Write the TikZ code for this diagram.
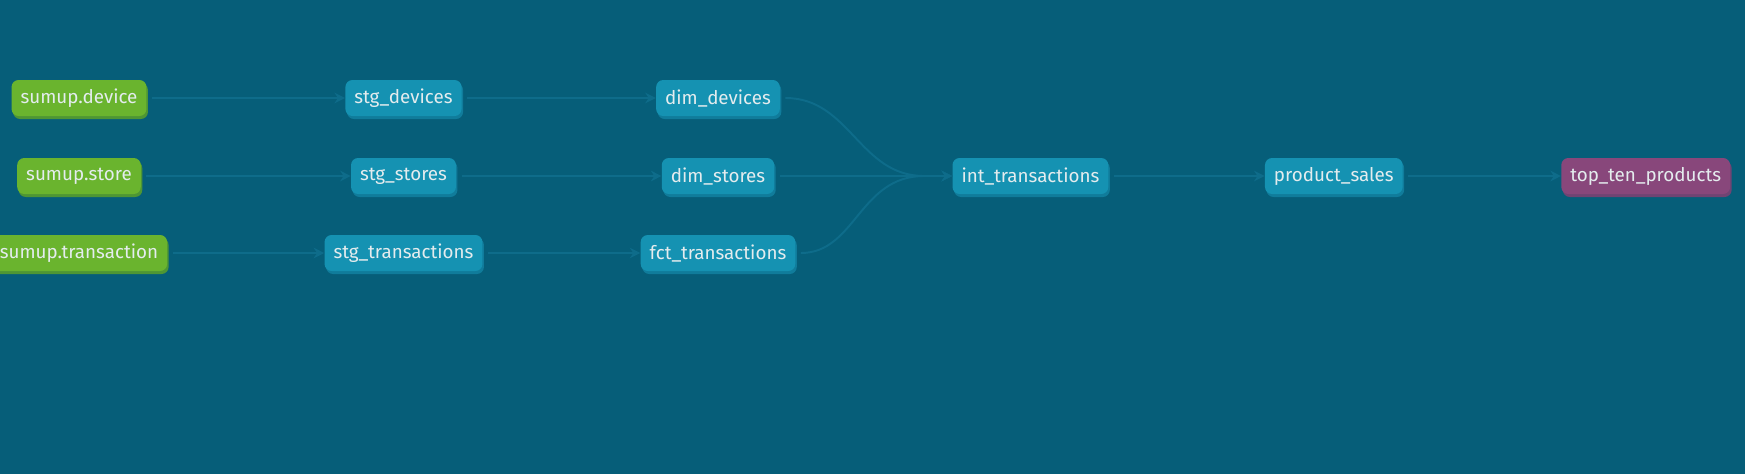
\documentclass[tikz,border=0pt]{standalone}
\usepackage{fontspec}
\setmainfont{Fira Sans}
\usetikzlibrary{shadows,arrows.meta}
\definecolor{bgblue}{RGB}{6,94,121}
\definecolor{edgeblue}{RGB}{14,108,138}
\definecolor{srcgreen}{RGB}{106,180,46}
\definecolor{srcshade}{RGB}{78,150,52}
\definecolor{mdlblue}{RGB}{21,146,178}
\definecolor{mdlshade}{RGB}{16,124,155}
\definecolor{expurple}{RGB}{136,71,123}
\definecolor{expshade}{RGB}{112,68,115}
\definecolor{lbltext}{RGB}{228,236,238}
\tikzset{
  dbt/.style={rounded corners=4pt,text=lbltext,minimum height=0.72cm,inner xsep=0.18cm,
    font=\fontsize{10.7}{13}\selectfont},
  source/.style={dbt,fill=srcgreen,general shadow={fill=srcshade,shadow yshift=-0.06cm,shadow xshift=0.03cm}},
  model/.style={dbt,fill=mdlblue,general shadow={fill=mdlshade,shadow yshift=-0.06cm,shadow xshift=0.03cm}},
  exposure/.style={dbt,fill=expurple,general shadow={fill=expshade,shadow yshift=-0.06cm,shadow xshift=0.03cm}},
  flow/.style={draw=edgeblue,line width=1.1pt,->,>={Stealth[length=6pt,width=6pt]},shorten <=3pt}
}
\begin{document}
\begin{tikzpicture}[x=0.02cm,y=-0.02cm]
\fill[bgblue] (0,0) rectangle (1745,474);
\useasboundingbox (0,0) rectangle (1745,474);
% sources
\node[source] (device) at (79,98) {sumup.device};
\node[source] (store) at (79,176) {sumup.store};
\node[source] (trans) at (79,253) {sumup.transaction};
% staging
\node[model] (stgdev) at (403.5,98) {stg\_devices};
\node[model] (stgsto) at (403.5,176) {stg\_stores};
\node[model] (stgtra) at (403.5,253) {stg\_transactions};
% marts
\node[model] (dimdev) at (718,98) {dim\_devices};
\node[model] (dimsto) at (718,176) {dim\_stores};
\node[model] (fcttra) at (718,253) {fct\_transactions};
\node[model] (inttra) at (1030.4,176) {int\_transactions};
\node[model] (prodsales) at (1333.8,176) {product\_sales};
\node[exposure] (topten) at (1645.7,176) {top\_ten\_products};
% edges
\foreach \a/\b in {device/stgdev,store/stgsto,trans/stgtra,stgdev/dimdev,stgsto/dimsto,stgtra/fcttra,dimsto/inttra,inttra/prodsales,prodsales/topten}
  \draw[flow] (\a.east) -- (\b.west);
\draw[flow] (dimdev.east) .. controls +(70,0) and +(-65,0) .. ([xshift=-0.56cm]inttra.west) -- (inttra.west);
\draw[flow] (fcttra.east) .. controls +(60,0) and +(-65,0) .. ([xshift=-0.56cm]inttra.west) -- (inttra.west);
\end{tikzpicture}
\end{document}
